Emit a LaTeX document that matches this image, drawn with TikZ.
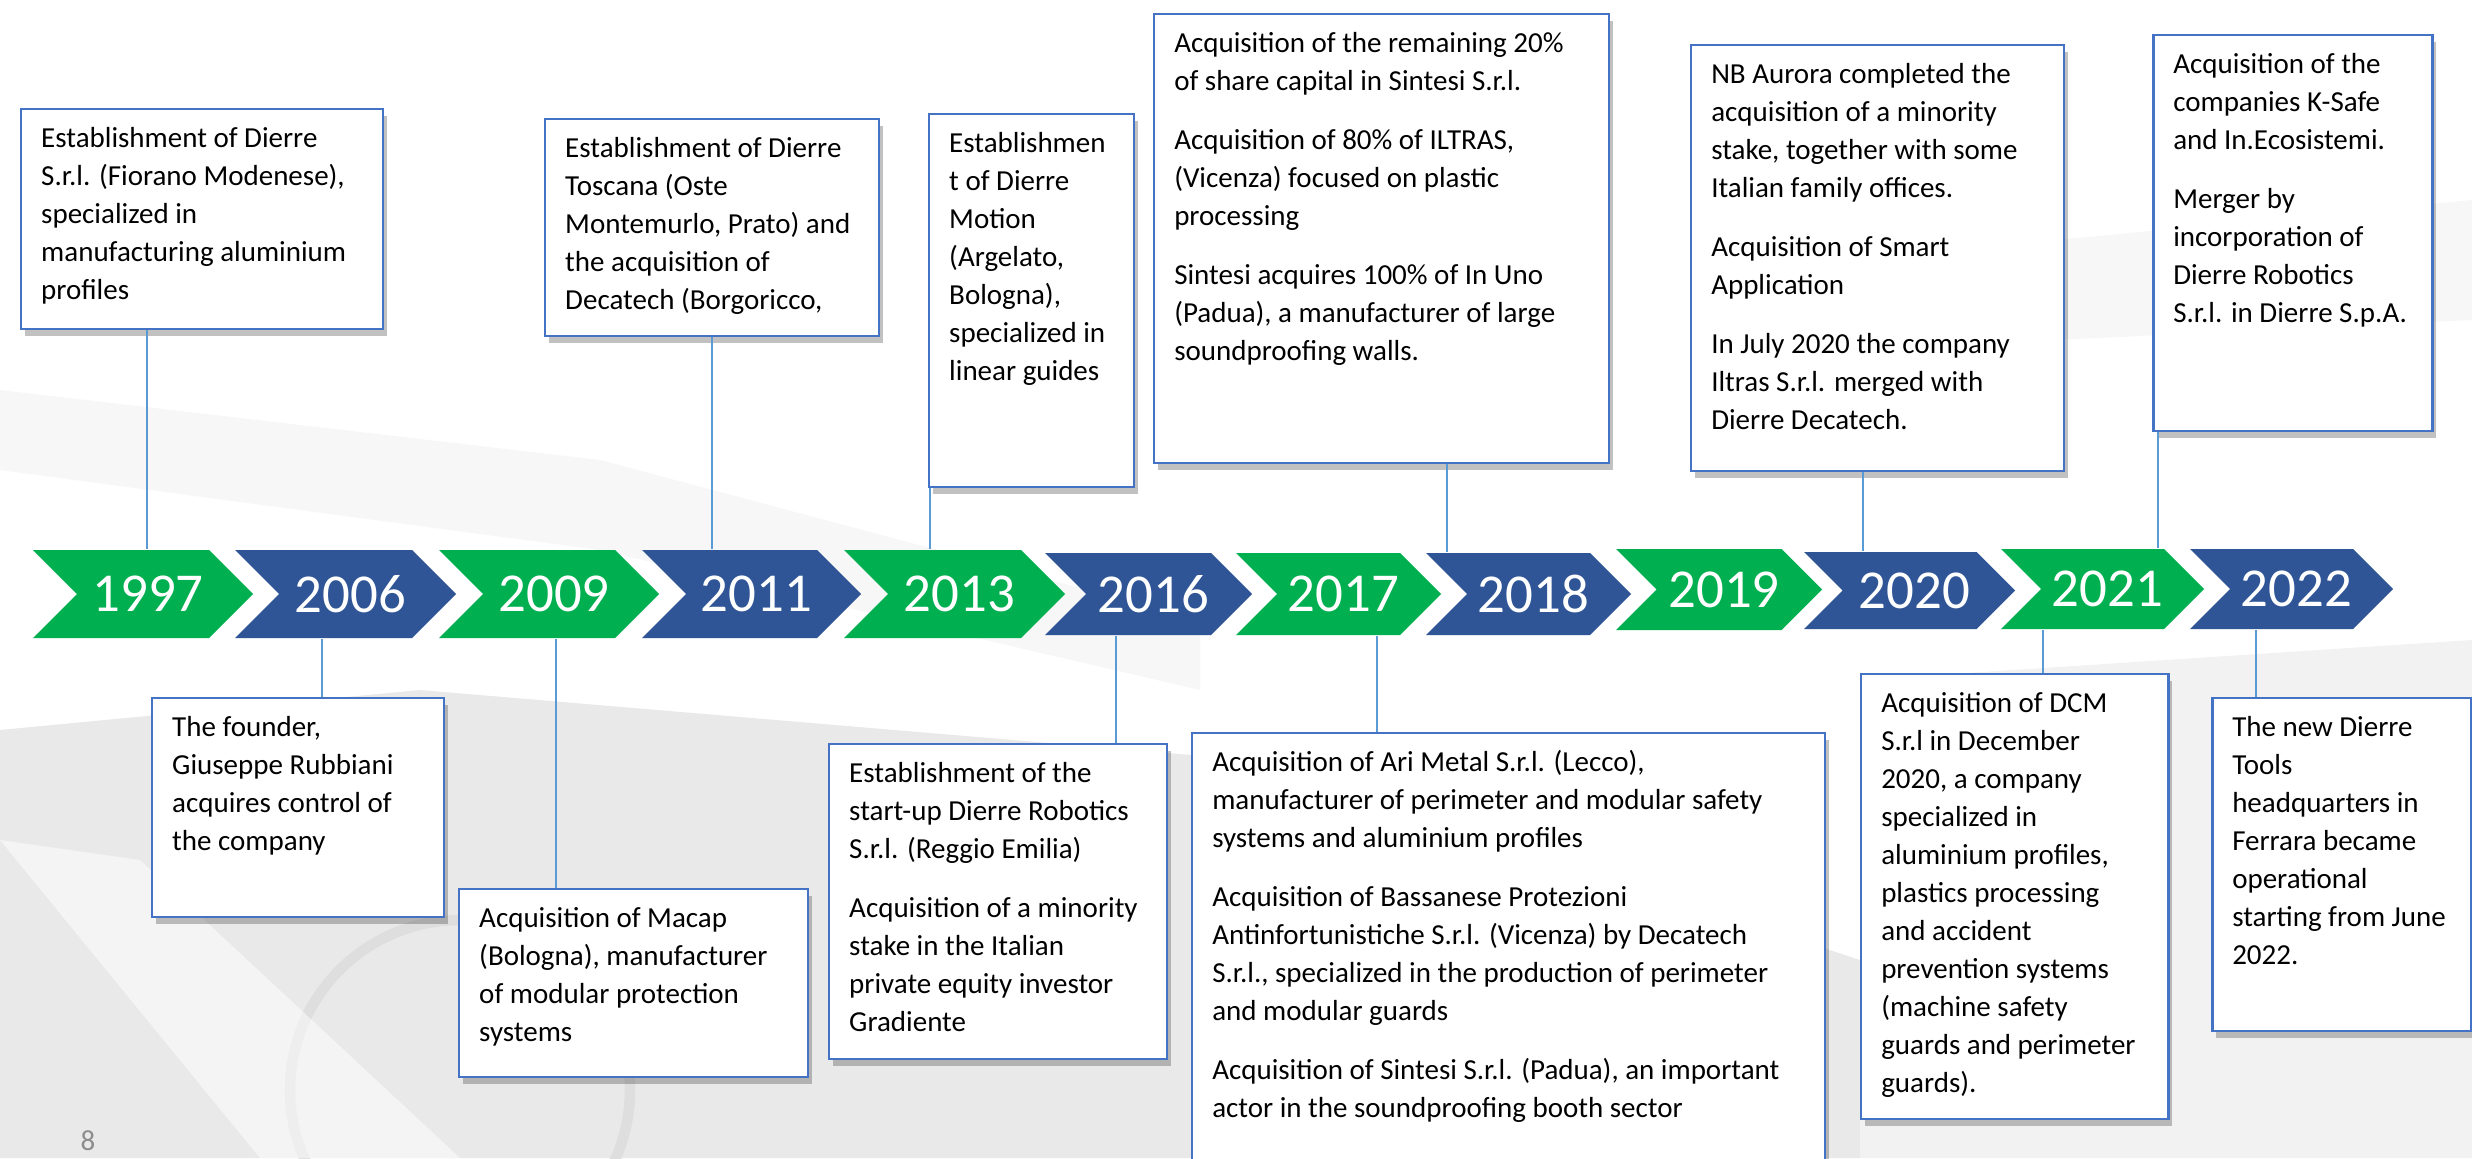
\documentclass[tikz,border=0pt]{standalone}
\usepackage{fontspec}
\setmainfont{Carlito}
\usetikzlibrary{shadows}
\definecolor{evgreen}{RGB}{0,176,80}
\definecolor{evblue}{RGB}{47,85,151}
\definecolor{frame}{RGB}{68,114,196}
\definecolor{wire}{RGB}{91,155,213}
\definecolor{steel}{RGB}{214,214,214}

\tikzset{
  event/.style={draw=frame,line width=0.7pt,fill=white,anchor=north west,inner xsep=2mm,inner ysep=1.2mm,
    drop shadow={shadow xshift=0.4mm,shadow yshift=-0.7mm,opacity=0.3,fill=black!80}},
  link/.style={draw=wire,line width=0.45pt},
  yearlbl/.style={text=white,font=\fontsize{15.6}{16}\selectfont,inner sep=0pt}
}
% text of a box: outer width, outer height, lines
\newcommand{\evtext}[3]{\parbox[t][\dimexpr#2-2.4mm\relax][t]{\dimexpr#1-4mm\relax}{\raggedright\fontsize{8.25}{10.8}\selectfont\strut#3}}

\begin{document}
\begin{tikzpicture}
\useasboundingbox (0,0) rectangle (24.72,-11.58);
\fill[white] (0,0) rectangle (24.72,-11.58);
% faded workshop photo behind the time line
\fill[black!3] (0,-3.9) -- (6,-4.6) -- (12,-6.2) -- (12,-6.9) -- (6,-5.5) -- (0,-4.7) -- cycle;
\fill[black!3] (18.5,-2.6) -- (24.72,-2.0) -- (24.72,-3.2) -- (18.5,-3.5) -- cycle;
\fill[steel!55] (0,-7.3) -- (4.2,-6.9) -- (12.5,-7.6) -- (18.6,-9.6) -- (18.6,-11.58) -- (0,-11.58) -- cycle;
\fill[black!5] (18.6,-6.8) -- (24.72,-6.4) -- (24.72,-11.58) -- (18.6,-11.58) -- cycle;
\draw[black!13,line width=3pt] (4.6,-10.9) circle (1.7);
\fill[white,opacity=0.5] (0,-8.4) -- (1.4,-8.6) -- (4.6,-11.58) -- (2.6,-11.58) -- cycle;

\foreach \yr/\xl/\xr/\yt/\yb/\col in {1997/0.33/2.53/5.50/6.38/evgreen,2006/2.35/4.56/5.50/6.38/evblue,
    2009/4.39/6.59/5.50/6.38/evgreen,2011/6.42/8.61/5.50/6.38/evblue,2013/8.44/10.65/5.50/6.38/evgreen,
    2016/10.45/12.52/5.53/6.35/evblue,2017/12.36/14.41/5.53/6.35/evgreen,2018/14.26/16.31/5.53/6.35/evblue,
    2019/16.16/18.22/5.49/6.30/evgreen,2020/18.04/20.15/5.52/6.29/evblue,2021/20.01/22.04/5.49/6.29/evgreen,
    2022/21.90/23.93/5.49/6.29/evblue}{
  \pgfmathsetmacro\hh{\yb-\yt}
  \pgfmathsetmacro\dd{\hh/2}
  \fill[\col] (\xl,-\yt) -- ({\xr-\dd},-\yt) -- (\xr,{-\yt-\dd}) -- ({\xr-\dd},-\yb) -- (\xl,-\yb) -- ({\xl+\dd},{-\yt-\dd}) -- cycle;
  \node[yearlbl,minimum height=\hh cm] (y\yr) at ({(\xl+\xr)/2+0.05},{-\yt-\dd}) {\yr};
}

\node[event] (t1997) at (0.20,-1.08) {\evtext{3.62cm}{2.20cm}{Establishment of Dierre\\S.r.l. (Fiorano Modenese),\\specialized in\\manufacturing aluminium\\profiles}};
\node[event] (t2011) at (5.44,-1.18) {\evtext{3.34cm}{2.17cm}{Establishment of Dierre\\Toscana (Oste\\Montemurlo, Prato) and\\the acquisition of\\Decatech (Borgoricco,}};
\node[event] (t2013) at (9.28,-1.13) {\evtext{2.05cm}{3.73cm}{Establishmen\\t of Dierre\\Motion\\(Argelato,\\Bologna),\\specialized in\\linear guides}};
\node[event] (t2018) at (11.53,-0.13) {\evtext{4.55cm}{4.49cm}{Acquisition of the remaining 20\%\\of share capital in Sintesi S.r.l.\\[6pt]Acquisition of 80\% of ILTRAS,\\(Vicenza) focused on plastic\\processing\\[6pt]Sintesi acquires 100\% of In Uno\\(Padua), a manufacturer of large\\soundproofing walls.}};
\node[event] (t2020) at (16.90,-0.44) {\evtext{3.73cm}{4.26cm}{NB Aurora completed the\\acquisition of a minority\\stake, together with some\\Italian family offices.\\[6pt]Acquisition of Smart\\Application\\[6pt]In July 2020 the company\\Iltras S.r.l. merged with\\Dierre Decatech.}};
\node[event] (t2021) at (21.52,-0.34) {\evtext{2.79cm}{3.96cm}{Acquisition of the\\companies K-Safe\\and In.Ecosistemi.\\[6pt]Merger by\\incorporation of\\Dierre Robotics\\S.r.l. in Dierre S.p.A.}};

\node[event] (b2006) at (1.51,-6.97) {\evtext{2.92cm}{2.19cm}{The founder,\\Giuseppe Rubbiani\\acquires control of\\the company}};
\node[event] (b2009) at (4.58,-8.88) {\evtext{3.49cm}{1.88cm}{Acquisition of Macap\\(Bologna), manufacturer\\of modular protection\\systems}};
\node[event] (b2016) at (8.28,-7.43) {\evtext{3.38cm}{3.15cm}{Establishment of the\\start-up Dierre Robotics\\S.r.l. (Reggio Emilia)\\[6pt]Acquisition of a minority\\stake in the Italian\\private equity investor\\Gradiente}};
\node[event] (b2017) at (11.91,-7.32) {\evtext{6.33cm}{4.50cm}{Acquisition of Ari Metal S.r.l. (Lecco),\\manufacturer of perimeter and modular safety\\systems and aluminium profiles\\[6pt]Acquisition of Bassanese Protezioni\\Antinfortunistiche S.r.l. (Vicenza) by Decatech\\S.r.l., specialized in the production of perimeter\\and modular guards\\[6pt]Acquisition of Sintesi S.r.l. (Padua), an important\\actor in the soundproofing booth sector}};
\node[event] (b2021) at (18.60,-6.73) {\evtext{3.07cm}{4.45cm}{Acquisition of DCM\\S.r.l in December\\2020, a company\\specialized in\\aluminium profiles,\\plastics processing\\and accident\\prevention systems\\(machine safety\\guards and perimeter\\guards).}};
\node[event] (b2022) at (22.11,-6.97) {\evtext{2.59cm}{3.33cm}{The new Dierre\\Tools\\headquarters in\\Ferrara became\\operational\\starting from June\\2022.}};

\foreach \bx/\yr/\dx in {t1997/1997/-0.55,t2011/2011/0,t2013/2013/-1.015,t2018/2018/0.655,t2020/2020/-0.145,t2021/2021/-1.345}
  \draw[link] (\bx.south) ++(\dx,0) coordinate (k) -- (k |- y\yr.north);
\foreach \bx/\yr/\dx in {b2006/2006/0.24,b2009/2009/-0.775,b2016/2016/1.18,b2017/2017/-1.315,b2021/2021/0.285,b2022/2022/-0.855}
  \draw[link] (\bx.north) ++(\dx,0) coordinate (k) -- (k |- y\yr.south);

\node[font=\fontsize{8.25}{10}\selectfont,text=black!45,anchor=north west,inner sep=0pt] (pg) at (0.80,-11.30) {8};
\end{tikzpicture}
\end{document}
